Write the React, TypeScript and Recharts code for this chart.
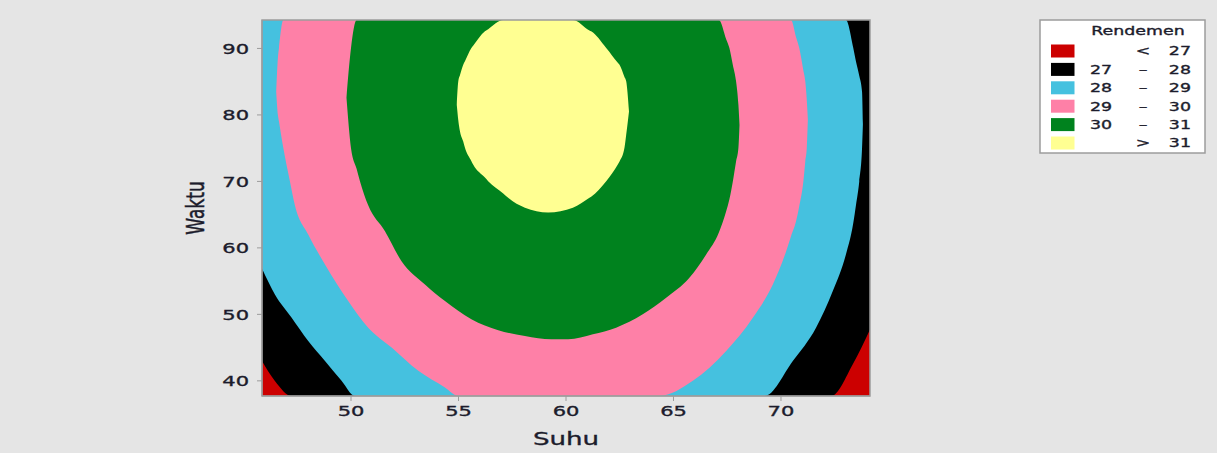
import { ComposedChart, Area, XAxis, YAxis, ReferenceArea } from 'recharts';

// design region (coded -1.414 .. +1.414 around the centre point)
const SUHU_MIN = 45.86;
const SUHU_MAX = 74.14;
const WAKTU_MIN = 37.72;
const WAKTU_MAX = 94.28;
const T = WAKTU_MAX;

const suhuTicks = [50, 55, 60, 65, 70];
const waktuTicks = [40, 50, 60, 70, 80, 90];

// contour bands of Rendemen: [suhu, waktu low, waktu high]
const bandBelow27 = [
  [45.86, WAKTU_MIN, T],
  [74.14, WAKTU_MIN, T],
];

const band27 = [
  [45.86, 42.98, T],
  [46.46, 39.98, T],
  [47.24, WAKTU_MIN, T],
  [72.33, WAKTU_MIN, T],
  [73.34, 42.5, T],
  [74.14, 47.74, T],
];

const band28 = [
  [45.86, 56.9, T],
  [46.46, 53.0, T],
  [47.24, 49.5, T],
  [48.01, 46.0, T],
  [48.79, 43.0, T],
  [49.56, 40.0, T],
  [50.18, WAKTU_MIN, T],
  [69.23, WAKTU_MIN, T],
  [70.55, 43.0, T],
  [71.63, 48.0, T],
  [72.41, 53.5, T],
  [73.02, 59.0, T],
  [73.36, 63.7, 90.1],
  [73.49, 66.5, 88.0],
  [73.64, 70.0, 85.9],
  [73.77, 75.0, 83.5],
  [73.81, 78.6, 78.6],
];

const band29 = [
  [46.52, 83.5, 83.5],
  [46.6, 80.0, 88.6],
  [46.65, 79.0, 90.07],
  [46.85, 75.05, T],
  [47.16, 70.0, T],
  [47.39, 66.4, T],
  [48.01, 62.0, T],
  [48.79, 57.5, T],
  [49.87, 52.0, T],
  [50.8, 48.0, T],
  [51.89, 45.0, T],
  [53.13, 41.5, T],
  [54.37, 39.0, T],
  [54.99, WAKTU_MIN, T],
  [64.34, WAKTU_MIN, T],
  [65.9, 40.0, T],
  [67.45, 44.5, T],
  [68.69, 49.5, T],
  [69.62, 54.5, T],
  [70.24, 59.5, T],
  [70.47, 61.8, T],
  [70.7, 64.0, 91.7],
  [70.85, 66.3, 90.07],
  [71.04, 70.0, 86.7],
  [71.13, 73.0, 85.05],
  [71.2, 75.05, 82.2],
  [71.25, 79.3, 79.3],
];

const band30 = [
  [49.79, 82.6, 82.6],
  [50.0, 75.0, 90.07],
  [50.26, 71.9, T],
  [50.42, 70.0, T],
  [50.8, 66.4, T],
  [51.58, 62.5, T],
  [52.35, 58.0, T],
  [53.44, 54.5, T],
  [54.37, 52.0, T],
  [55.6, 49.25, T],
  [56.85, 47.6, T],
  [58.09, 46.75, T],
  [59.32, 46.25, T],
  [60.1, 46.25, T],
  [61.25, 47.0, T],
  [62.33, 48.0, T],
  [63.57, 50.0, T],
  [64.66, 52.5, T],
  [65.74, 55.5, T],
  [66.52, 59.0, T],
  [67.11, 62.3, T],
  [67.45, 65.5, 91.4],
  [67.6, 67.3, 90.07],
  [67.76, 70.0, 87.5],
  [67.91, 73.0, 85.05],
  [68.02, 75.05, 81.5],
  [68.07, 78.5, 78.5],
];

const band31 = [
  [54.92, 81.5, 81.5],
  [54.99, 79.2, 85.05],
  [55.07, 77.5, 86.0],
  [55.22, 76.0, 87.56],
  [55.3, 75.05, 88.07],
  [55.6, 73.05, 90.07],
  [55.68, 72.54, 90.4],
  [56.23, 70.58, 92.57],
  [56.38, 70.03, 92.9],
  [57.08, 68.2, T],
  [57.31, 67.53, T],
  [58.09, 66.03, T],
  [59.17, 65.32, T],
  [60.32, 66.03, T],
  [61.09, 67.53, 92.7],
  [61.17, 67.7, 92.57],
  [61.87, 70.03, 90.07],
  [62.41, 72.54, 87.86],
  [62.49, 73.0, 87.56],
  [62.72, 75.05, 85.7],
  [62.8, 77.0, 85.05],
  [62.93, 80.5, 80.5],
];

const bands = [bandBelow27, band27, band28, band29, band30, band31];
const levelColors = ['#cc0000', '#000000', '#45c1df', '#fe80a7', '#00821e', '#ffff92'];
const levelFrom = ['', '27', '28', '29', '30', ''];
const levelSep = ['<', '–', '–', '–', '–', '>'];
const levelTo = ['27', '28', '29', '30', '31', '31'];

const FONT = '"DejaVu Sans", Verdana, sans-serif';
const TEXT = '#1c1c2c';
const FRAME = '#9c9c9c';
const STRETCH = 1.45;

const toRows = (band: number[][]) => band.map(([suhu, lo, hi]) => ({ suhu, waktu: [lo, hi] }));

// text is drawn a bit wide and heavy, like the old plotting software
const Wide = ({ x = 0, y = 0, sx = STRETCH, sy = 1, rotate = 0, size, anchor = 'start', dy, children }: any) => (
  <g transform={`translate(${x},${y}) rotate(${rotate}) scale(${sx},${sy})`}>
    <text
      textAnchor={anchor}
      dy={dy}
      fontFamily={FONT}
      fontSize={size}
      fill={TEXT}
      stroke={TEXT}
      strokeWidth={0.35}
    >
      {children}
    </text>
  </g>
);

const StretchTick = (props: any) => {
  const { x, y, payload, textAnchor, baseShift } = props;
  return (
    <Wide x={x} y={y} size={14.5} anchor={textAnchor} dy={baseShift}>
      {payload.value}
    </Wide>
  );
};

const XTitle = (props: any) => {
  const { viewBox } = props;
  return (
    <Wide x={viewBox.x + viewBox.width / 2} y={viewBox.y + viewBox.height - 8} size={18} anchor="middle">
      Suhu
    </Wide>
  );
};

const YTitle = (props: any) => {
  const { viewBox } = props;
  return (
    <Wide
      x={viewBox.x + 195}
      y={viewBox.y + viewBox.height / 2}
      rotate={-90}
      sx={1}
      sy={STRETCH}
      size={17}
      anchor="middle"
      dy="0.355em"
    >
      Waktu
    </Wide>
  );
};

const LegendBox = () => (
  <svg width={167} height={135} style={{ position: 'absolute', left: 1039, top: 19 }}>
    <rect x={1} y={1} width={165} height={133} fill="#fff" stroke={FRAME} strokeWidth={1.5} />
    <Wide x={99} y={16} size={12} anchor="middle">Rendemen</Wide>
    {levelColors.map((c, i) => {
      const cy = 32 + i * 18.4;
      return (
        <g key={c}>
          <rect x={12} y={cy - 6.5} width={23.5} height={13} fill={c} />
          <Wide x={51} y={cy + 4.3} size={12}>{levelFrom[i]}</Wide>
          <Wide x={104} y={cy + 4.3} size={12} anchor="middle">{levelSep[i]}</Wide>
          <Wide x={152} y={cy + 4.3} size={12} anchor="end">{levelTo[i]}</Wide>
        </g>
      );
    })}
  </svg>
);

export default function App() {
  return (
    <div style={{ position: 'absolute', left: 0, top: 0, width: 1217, height: 453, background: '#e5e5e5', overflow: 'hidden' }}>
      <ComposedChart width={1217} height={453} margin={{ top: 20, right: 347, bottom: 0, left: 0 }}>
        <XAxis
          type="number"
          dataKey="suhu"
          domain={[SUHU_MIN, SUHU_MAX]}
          allowDataOverflow
          ticks={suhuTicks}
          height={57}
          tickSize={5}
          tickMargin={5}
          axisLine={{ stroke: FRAME }}
          tickLine={{ stroke: FRAME }}
          tick={<StretchTick baseShift="0.71em" />}
          label={<XTitle />}
        />
        <YAxis
          type="number"
          domain={[WAKTU_MIN, WAKTU_MAX]}
          allowDataOverflow
          ticks={waktuTicks}
          width={262}
          tickSize={5}
          tickMargin={8}
          axisLine={{ stroke: FRAME }}
          tickLine={{ stroke: FRAME }}
          tick={<StretchTick baseShift="0.355em" />}
          label={<YTitle />}
        />
        {bands.map((band, i) => (
          <Area
            key={levelColors[i]}
            data={toRows(band)}
            dataKey="waktu"
            type="monotone"
            stroke="none"
            fill={levelColors[i]}
            fillOpacity={1}
            dot={false}
            activeDot={false}
            isAnimationActive={false}
          />
        ))}
        <ReferenceArea
          x1={SUHU_MIN}
          x2={SUHU_MAX}
          y1={WAKTU_MIN}
          y2={WAKTU_MAX}
          fill="none"
          stroke={FRAME}
          strokeWidth={1.5}
          ifOverflow="visible"
        />
      </ComposedChart>
      <LegendBox />
    </div>
  );
}
